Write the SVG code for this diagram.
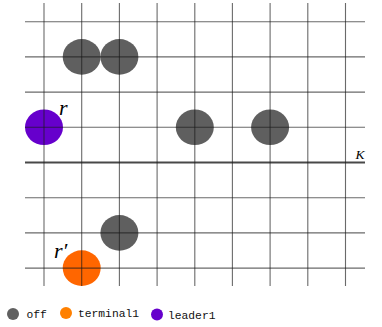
<svg xmlns="http://www.w3.org/2000/svg" width="382" height="327" viewBox="0 0 382 327">
<style>
.off{fill:#5f5f5f}
.term{fill:#ff6600}
.lead{fill:#6600cc}
.g{stroke:#1a1a1a;stroke-opacity:0.65;stroke-width:1.1}
.k{stroke:#1a1a1a;stroke-opacity:0.8;stroke-width:2}
.lbl{font-family:"Liberation Serif",serif;font-style:italic;fill:#000}
.leg{font-family:"Liberation Mono",monospace;font-size:11.3px;fill:#111}
</style>
<rect width="382" height="327" fill="#fff"/>
<g id="nodes">
<g id="off1"><ellipse class="off" cx="81.7" cy="56.9" rx="19" ry="17.8"/></g>
<g id="off2"><ellipse class="off" cx="119.4" cy="56.9" rx="19" ry="17.8"/></g>
<g id="off3"><ellipse class="off" cx="194.8" cy="127.3" rx="19" ry="17.8"/></g>
<g id="off4"><ellipse class="off" cx="270.1" cy="127.3" rx="19" ry="17.8"/></g>
<g id="off5"><ellipse class="off" cx="119.4" cy="232.9" rx="19" ry="17.8"/></g>
<g id="leader"><ellipse class="lead" cx="44" cy="127.3" rx="19" ry="17.8"/></g>
<g id="terminal"><ellipse class="term" cx="81.7" cy="268.1" rx="19" ry="17.8"/></g>
</g>
<g id="grid">
<line class="g" x1="44" y1="3" x2="44" y2="286"/>
<line class="g" x1="81.7" y1="3" x2="81.7" y2="286"/>
<line class="g" x1="119.4" y1="3" x2="119.4" y2="286"/>
<line class="g" x1="157.1" y1="3" x2="157.1" y2="286"/>
<line class="g" x1="194.8" y1="3" x2="194.8" y2="286"/>
<line class="g" x1="232.4" y1="3" x2="232.4" y2="286"/>
<line class="g" x1="270.1" y1="3" x2="270.1" y2="286"/>
<line class="g" x1="307.8" y1="3" x2="307.8" y2="286"/>
<line class="g" x1="345.5" y1="3" x2="345.5" y2="286"/>
<line class="g" x1="25" y1="21.7" x2="365" y2="21.7"/>
<line class="g" x1="25" y1="56.9" x2="365" y2="56.9"/>
<line class="g" x1="25" y1="92.1" x2="365" y2="92.1"/>
<line class="g" x1="25" y1="127.3" x2="365" y2="127.3"/>
<line class="k" x1="25" y1="162.5" x2="365" y2="162.5"/>
<line class="g" x1="25" y1="197.7" x2="365" y2="197.7"/>
<line class="g" x1="25" y1="232.9" x2="365" y2="232.9"/>
<line class="g" x1="25" y1="268.1" x2="365" y2="268.1"/>
</g>
<g id="labels">
<text class="lbl" x="59" y="115" font-size="22">r</text>
<text class="lbl" x="54" y="257.5" font-size="22">r′</text>
<text class="lbl" x="355.5" y="159" font-size="13.5" fill="#444">K</text>
</g>
<g id="legend">
<circle cx="13" cy="314" r="6" fill="#606060"/>
<text class="leg" x="26.5" y="317.5">off</text>
<circle cx="66" cy="313" r="6" fill="#ff8000"/>
<text class="leg" x="78" y="317">terminal1</text>
<circle cx="157" cy="314.5" r="6" fill="#6600cc"/>
<text class="leg" x="168" y="318.5">leader1</text>
</g>
</svg>
